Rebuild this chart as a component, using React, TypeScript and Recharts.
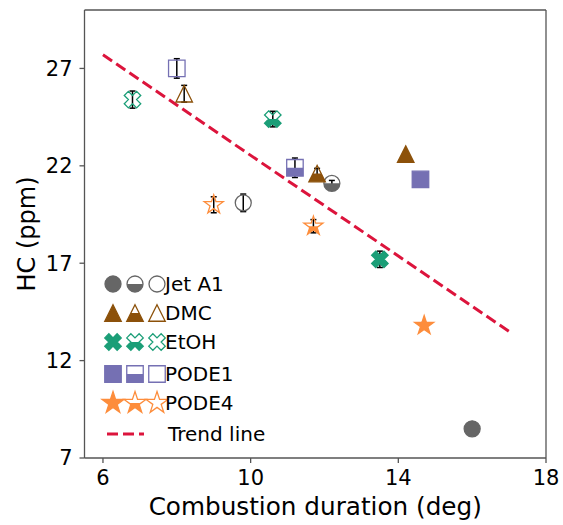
import { ErrorBar, ReferenceLine, Scatter, ScatterChart, XAxis, YAxis } from "recharts";

const FUELS = ["Jet A1", "DMC", "EtOH", "PODE1", "PODE4"];

// filled markers
const DURATION_FULL = [16.0, 14.2, 13.5, 14.6, 14.7];
const HC_FULL = [8.5, 22.6, 17.2, 21.3, 13.8];
const ERR_FULL = [0, 0, 0.42, 0, 0.15];

// half-filled markers
const DURATION_HALF = [12.2, 11.8, 10.6, 11.2, 11.7];
const HC_HALF = [21.1, 21.6, 24.4, 21.9, 18.9];
const ERR_HALF = [0.15, 0.27, 0.4, 0.5, 0.34];

// open markers
const DURATION_OPEN = [9.8, 8.2, 6.8, 8.0, 9.0];
const HC_OPEN = [20.1, 25.7, 25.4, 27.0, 20.0];
const ERR_OPEN = [0.45, 0.43, 0.44, 0.5, 0.41];

const TREND_X = [6, 17];
const TREND_Y = [27.7, 13.5];

const X_TICKS = [6, 10, 14, 18];
const Y_TICKS = [7, 12, 17, 22, 27];

type Shape = "circle" | "triangle" | "x" | "square" | "star";
type Mode = "full" | "half" | "open";

const STYLE: Record<string, { color: string; shape: Shape }> = {
  "Jet A1": { color: "#666666", shape: "circle" },
  DMC: { color: "#8c510a", shape: "triangle" },
  EtOH: { color: "#1b9e77", shape: "x" },
  PODE1: { color: "#7570b3", shape: "square" },
  PODE4: { color: "#fd8d3c", shape: "star" }
};

const FONT = "'DejaVu Sans', sans-serif";
const AXIS = "#555555";
const TREND = "#dc143c";

const X_PTS: [number, number][] = [
  [-1, -2], [0, -1], [1, -2], [2, -1], [1, 0], [2, 1],
  [1, 2], [0, 1], [-1, 2], [-2, 1], [-1, 0], [-2, -1]
];

function markerPath(shape: Shape, cx: number, cy: number, big = false): string {
  const ms = 16.5;
  if (shape === "circle") {
    const r = 8;
    return `M${cx - r},${cy}A${r},${r} 0 1 0 ${cx + r},${cy}A${r},${r} 0 1 0 ${cx - r},${cy}Z`;
  }
  if (shape === "square") {
    const h = ms / 2;
    return `M${cx - h},${cy - h}H${cx + h}V${cy + h}H${cx - h}Z`;
  }
  if (shape === "triangle") {
    const h = ms / 2;
    return `M${cx},${cy - h}L${cx + h},${cy + h}L${cx - h},${cy + h}Z`;
  }
  if (shape === "x") {
    return (
      X_PTS.map(([px, py], i) => `${i === 0 ? "M" : "L"}${cx + (px * ms) / 4},${cy + (py * ms) / 4}`).join("") +
      "Z"
    );
  }
  const R = big ? 11.5 : 10;
  const r = R * 0.381966;
  const pts: string[] = [];
  for (let i = 0; i < 10; i += 1) {
    const a = -Math.PI / 2 + (i * Math.PI) / 5;
    const rad = i % 2 === 0 ? R : r;
    pts.push(`${i === 0 ? "M" : "L"}${cx + rad * Math.cos(a)},${cy + rad * Math.sin(a)}`);
  }
  return pts.join("") + "Z";
}

function Marker({
  cx,
  cy,
  fuel,
  mode,
  id,
  big
}: {
  cx: number;
  cy: number;
  fuel: string;
  mode: Mode;
  id: string;
  big?: boolean;
}) {
  const { color, shape } = STYLE[fuel];
  const d = markerPath(shape, cx, cy, big);
  return (
    <g>
      {mode === "half" ? (
        <>
          <defs>
            <clipPath id={id}>
              <rect x={cx - 15} y={cy} width={30} height={15} />
            </clipPath>
          </defs>
          <path d={d} fill={color} clipPath={`url(#${id})`} />
        </>
      ) : null}
      <path
        d={d}
        fill={mode === "full" ? color : "none"}
        stroke={color}
        strokeWidth={1.3}
        strokeLinejoin="miter"
      />
    </g>
  );
}

const rowsFor = (i: number) => [
  { x: DURATION_FULL[i], y: HC_FULL[i], err: ERR_FULL[i], mode: "full" as Mode },
  { x: DURATION_HALF[i], y: HC_HALF[i], err: ERR_HALF[i], mode: "half" as Mode },
  { x: DURATION_OPEN[i], y: HC_OPEN[i], err: ERR_OPEN[i], mode: "open" as Mode }
];

const trendRows = TREND_X.map((x, i) => ({ x, y: TREND_Y[i] }));

const LEGEND_Y = [284, 313, 342, 374, 403];
const LEGEND_MX = [113, 135, 157];
const MODES: Mode[] = ["full", "half", "open"];

function ChartLegend() {
  return (
    <svg
      width={563}
      height={525}
      style={{ position: "absolute", left: 0, top: 0, pointerEvents: "none" }}
    >
      {FUELS.map((fuel, i) => (
        <g key={fuel}>
          {MODES.map((mode, j) => (
            <Marker
              key={mode}
              cx={LEGEND_MX[j]}
              cy={LEGEND_Y[i]}
              fuel={fuel}
              mode={mode}
              id={`lg-${i}-${mode}`}
              big
            />
          ))}
          <text x={165} y={LEGEND_Y[i] + 7} fontSize={20} fontFamily={FONT} fill="#000">
            {fuel}
          </text>
        </g>
      ))}
      <line x1={107} x2={144} y1={434} y2={434} stroke={TREND} strokeWidth={3} strokeDasharray="11 5" />
      <text x={168} y={441} fontSize={20} fontFamily={FONT} fill="#000">
        Trend line
      </text>
    </svg>
  );
}

export default function App() {
  return (
    <div style={{ position: "absolute", left: 0, top: 0, width: 563, height: 525, background: "#fff" }}>
      <ScatterChart width={563} height={525} margin={{ top: 10, right: 17, bottom: 37, left: 24.5 }}>
        <XAxis
          type="number"
          dataKey="x"
          domain={[5.5, 18]}
          ticks={X_TICKS}
          allowDataOverflow
          height={30}
          tickSize={5}
          tickMargin={7}
          stroke={AXIS}
          strokeWidth={1.3}
          tick={{ fontSize: 21, fill: "#000", fontFamily: FONT }}
          label={{
            value: "Combustion duration (deg)",
            position: "bottom",
            offset: 9,
            fontSize: 24.7,
            fill: "#000",
            fontFamily: FONT
          }}
        />
        <YAxis
          type="number"
          dataKey="y"
          domain={[7, 30]}
          ticks={Y_TICKS}
          allowDataOverflow
          width={60}
          tickSize={5}
          tickMargin={7}
          stroke={AXIS}
          strokeWidth={1.3}
          tick={{ fontSize: 21, fill: "#000", fontFamily: FONT }}
          label={{
            value: "HC (ppm)",
            angle: -90,
            position: "insideLeft",
            offset: 2,
            fontSize: 24,
            fill: "#000",
            fontFamily: FONT,
            style: { textAnchor: "middle" }
          }}
        />
        <ReferenceLine x={18} stroke={AXIS} strokeWidth={1.3} />
        <ReferenceLine y={30} stroke={AXIS} strokeWidth={1.3} />
        <Scatter
          data={trendRows}
          line={{ stroke: TREND, strokeWidth: 3, strokeDasharray: "11 5" }}
          shape={() => <g />}
          isAnimationActive={false}
        />
        {FUELS.map((fuel, i) => (
          <Scatter
            key={fuel}
            name={fuel}
            data={rowsFor(i)}
            isAnimationActive={false}
            shape={(props: any) => (
              <Marker
                cx={props.cx}
                cy={props.cy}
                fuel={fuel}
                mode={props.payload.mode}
                id={`pt-${i}-${props.payload.mode}`}
              />
            )}
          >
            <ErrorBar dataKey="err" direction="y" width={3} stroke="#000" strokeWidth={1.5} />
          </Scatter>
        ))}
      </ScatterChart>
      <ChartLegend />
    </div>
  );
}
